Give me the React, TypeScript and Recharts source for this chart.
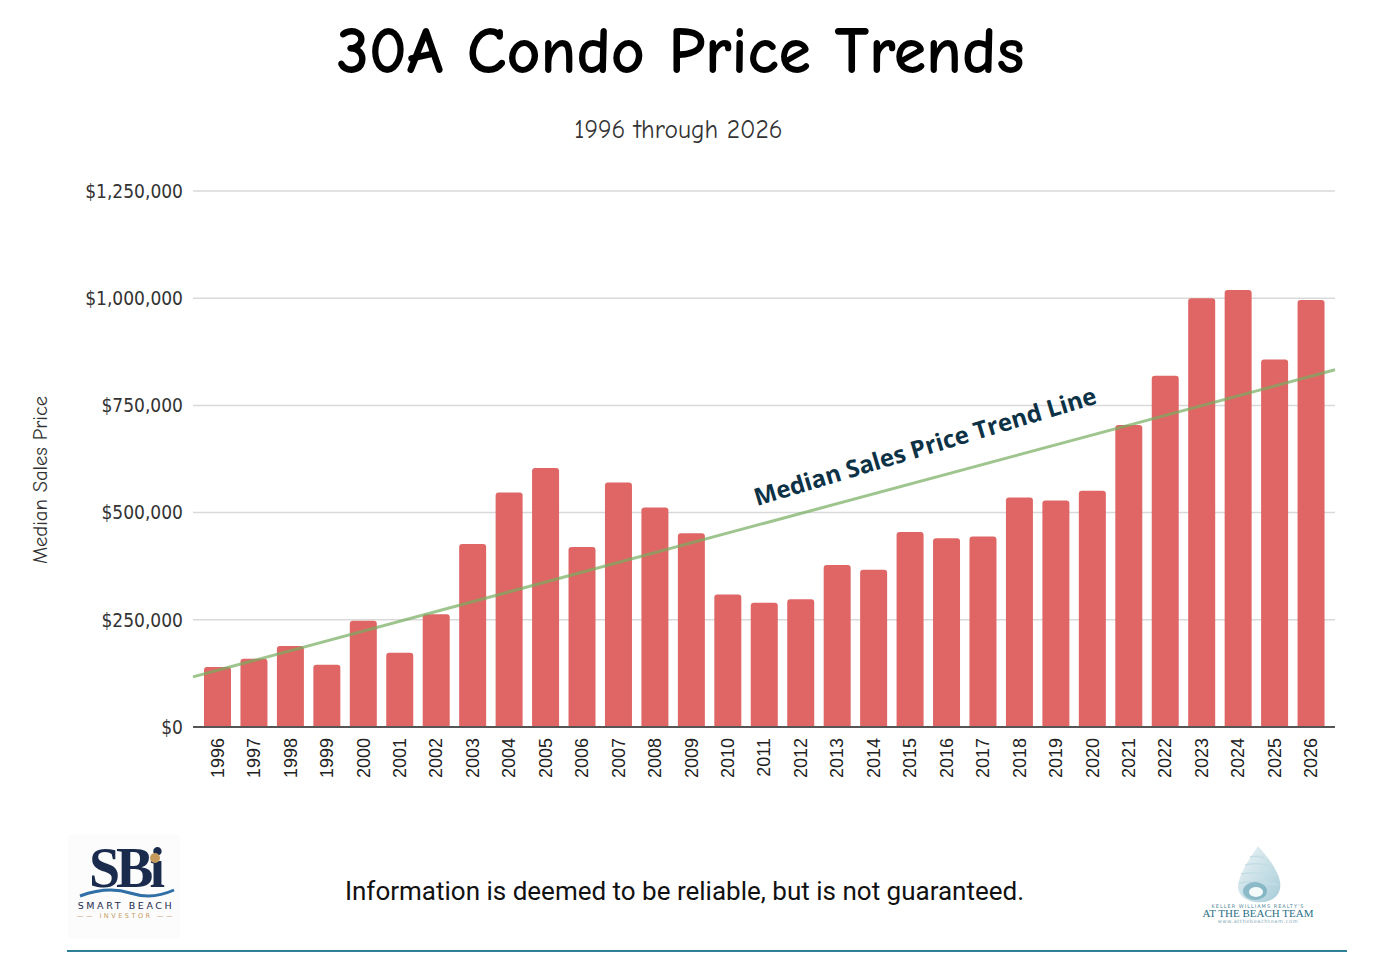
import React from 'react';
import { ComposedChart, Bar, Line, XAxis, YAxis, CartesianGrid } from 'recharts';

const years = [
  '1996', '1997', '1998', '1999', '2000', '2001', '2002', '2003', '2004', '2005', '2006',
  '2007', '2008', '2009', '2010', '2011', '2012', '2013', '2014', '2015', '2016',
  '2017', '2018', '2019', '2020', '2021', '2022', '2023', '2024', '2025', '2026',
];

const medianPrices = [
  140000, 159000, 189000, 145000, 248000, 173000, 263000, 427000, 547000, 604000, 420000,
  570000, 512000, 452000, 309000, 290000, 298000, 378000, 367000, 455000, 440000,
  444000, 535000, 528000, 551000, 704000, 819000, 1000000, 1019000, 857000, 996000,
];

// trend line read at the left and right edges of the plot
const trendPositions = [0, 1];
const trendPrices = [117000, 833000];

const yTicks = [0, 250000, 500000, 750000, 1000000, 1250000];

const chartData = years.map((year, i) => ({ year, price: medianPrices[i] }));
const trendData = trendPositions.map((pos, i) => ({ pos, trend: trendPrices[i] }));

const money = (v: number) => '$' + v.toLocaleString('en-US');

const YearTick = (props: any) => {
  const { x, y, payload } = props;
  return (
    <text
      x={x}
      y={y + 3}
      transform={`rotate(-90 ${x} ${y + 3})`}
      textAnchor="end"
      dy="0.36em"
      fill="#222"
      fontSize={18}
      fontFamily="'Liberation Sans', Arial, sans-serif"
    >
      {payload.value}
    </text>
  );
};

const PriceTick = (props: any) => {
  const { x, y, payload } = props;
  return (
    <text
      x={x}
      y={y}
      textAnchor="end"
      dy="0.36em"
      fill="#333"
      fontSize={19}
      style={{ fontStretch: 'condensed' }}
      fontFamily="'DejaVu Sans Condensed', 'DejaVu Sans', sans-serif"
    >
      {money(payload.value)}
    </text>
  );
};

const comic = "'Comic Sans MS', 'Comic Neue', 'DejaVu Sans', sans-serif";

const App: React.FC = () => {
  return (
    <div style={{ position: 'absolute', left: 0, top: 0, width: 1395, height: 969, background: '#fff', overflow: 'hidden' }}>
      <div
        style={{
          position: 'absolute', top: 12, left: 0, width: 1395, textAlign: 'center',
          fontFamily: comic, fontWeight: 'bold', fontSize: 66,
          color: '#000', lineHeight: '80px',
        }}
      >
        <span style={{ marginLeft: -34 }}>30A Condo Price Trends</span>
      </div>
      <div
        style={{
          position: 'absolute', top: 114, left: 0, width: 1395, textAlign: 'center',
          fontFamily: comic, fontSize: 25.5, color: '#333', lineHeight: '32px',
        }}
      >
        <span style={{ marginLeft: -38 }}>1996 through 2026</span>
      </div>

      <div
        style={{
          position: 'absolute', left: 40, top: 480, transform: 'translate(-50%, -50%) rotate(-90deg)',
          fontFamily: comic, fontSize: 20.5, color: '#333', whiteSpace: 'nowrap',
        }}
      >
        Median Sales Price
      </div>

      <div style={{ position: 'absolute', left: 0, top: 170 }}>
        <ComposedChart
          width={1395}
          height={637}
          data={chartData}
          margin={{ top: 21, right: 60, left: 0, bottom: 10 }}
          barCategoryGap={0}
        >
          <CartesianGrid vertical={false} stroke="#d9d9d9" strokeWidth={1.5} />
          <XAxis
            dataKey="year"
            interval={0}
            height={70}
            padding={{ left: 6, right: 6 }}
            axisLine={{ stroke: '#555', strokeWidth: 2 }}
            tickLine={false}
            tick={<YearTick />}
          />
          <XAxis xAxisId="trend" dataKey="pos" type="number" domain={[0, 1]} hide />
          <YAxis
            width={193}
            domain={[0, 1250000]}
            ticks={yTicks}
            interval={0}
            axisLine={false}
            tickLine={false}
            tickMargin={4}
            tick={<PriceTick />}
          />
          <Bar dataKey="price" fill="#e06666" barSize={27} radius={[3, 3, 0, 0]} isAnimationActive={false} />
          <Line
            data={trendData}
            xAxisId="trend"
            dataKey="trend"
            type="linear"
            stroke="#76ad60"
            strokeOpacity={0.7}
            strokeWidth={3}
            dot={false}
            activeDot={false}
            isAnimationActive={false}
          />
        </ComposedChart>
      </div>

      <div
        style={{
          position: 'absolute', left: 925, top: 446, width: 480, marginLeft: -240, marginTop: -14,
          textAlign: 'center', transform: 'rotate(-16.8deg)', fontFamily: "'Open Sans', 'Noto Sans', sans-serif",
          fontWeight: 'bold', fontSize: 24, lineHeight: '28px', color: '#0d3246', whiteSpace: 'nowrap',
        }}
      >
        Median Sales Price Trend Line
      </div>

      {/* left logo */}
      <div style={{ position: 'absolute', left: 68, top: 834, width: 112, height: 104, background: '#fcfcfc' }} />
      <div
        style={{
          position: 'absolute', left: 76, top: 838, width: 98, textAlign: 'center',
          fontFamily: "'Liberation Serif', 'DejaVu Serif', serif", fontWeight: 'bold', fontSize: 56,
          color: '#1b2b4d', lineHeight: '60px', letterSpacing: -4,
        }}
      >
        SBi
      </div>
      <div style={{ position: 'absolute', left: 150, top: 853, width: 10, height: 10, borderRadius: 5, background: '#c59a5b' }} />
      <svg style={{ position: 'absolute', left: 78, top: 886 }} width={98} height={14}>
        <path d="M2 10 Q30 0 52 7 T96 4" stroke="#2f6fa6" strokeWidth={3} fill="none" />
      </svg>
      <div
        style={{
          position: 'absolute', left: 70, top: 900, width: 112, textAlign: 'center',
          fontFamily: "'DejaVu Sans', sans-serif", fontSize: 9.5, letterSpacing: 2.6, color: '#1b2b4d',
        }}
      >
        SMART BEACH
      </div>
      <div
        style={{
          position: 'absolute', left: 70, top: 912, width: 112, textAlign: 'center',
          fontFamily: "'DejaVu Sans', sans-serif", fontSize: 6.5, letterSpacing: 2.5, color: '#c59a5b',
        }}
      >
        —— INVESTOR ——
      </div>

      <div
        style={{
          position: 'absolute', left: 0, top: 875, width: 1369, textAlign: 'center',
          fontFamily: "Roboto, 'Noto Sans', sans-serif", fontSize: 26, color: '#111', lineHeight: '32px',
        }}
      >
        Information is deemed to be reliable, but is not guaranteed.
      </div>

      {/* right logo: conch shell */}
      <svg style={{ position: 'absolute', left: 1228, top: 845 }} width={60} height={60}>
        <defs>
          <linearGradient id="shell" x1="0" y1="0" x2="1" y2="1">
            <stop offset="0%" stopColor="#eef5f7" />
            <stop offset="100%" stopColor="#a7ccd8" />
          </linearGradient>
        </defs>
        <path d="M30 1 C24 10 12 26 10 40 C9 52 22 59 36 57 C50 55 56 44 50 30 C45 18 36 8 30 1 Z" fill="url(#shell)" />
        <path d="M22 12 Q30 10 36 13 M17 20 Q30 17 42 21 M13 29 Q30 26 47 30 M11 38 Q30 35 50 40" stroke="#c3dde5" strokeWidth={1.5} fill="none" />
        <ellipse cx={27} cy={46} rx={12} ry={9} fill="#5a9aae" opacity={0.55} />
        <ellipse cx={28} cy={47} rx={7} ry={5} fill="#f4f9fa" />
      </svg>
      <div
        style={{
          position: 'absolute', left: 1198, top: 903, width: 120, textAlign: 'center',
          fontFamily: "'DejaVu Sans', sans-serif", fontSize: 5, letterSpacing: 1, color: '#5a8a99',
        }}
      >
        KELLER WILLIAMS REALTY'S
      </div>
      <div
        style={{
          position: 'absolute', left: 1198, top: 907, width: 120, textAlign: 'center',
          fontFamily: "'Liberation Serif', serif", fontSize: 11, color: '#2a6f86', whiteSpace: 'nowrap',
        }}
      >
        AT THE BEACH TEAM
      </div>
      <div
        style={{
          position: 'absolute', left: 1198, top: 918, width: 120, textAlign: 'center',
          fontFamily: "'DejaVu Sans', sans-serif", fontSize: 5, letterSpacing: 0.6, color: '#7fa9b6',
        }}
      >
        www.atthebeachteam.com
      </div>

      <div style={{ position: 'absolute', left: 67, top: 950, width: 1280, height: 2, background: '#2f7f98' }} />
    </div>
  );
};

export default App;
